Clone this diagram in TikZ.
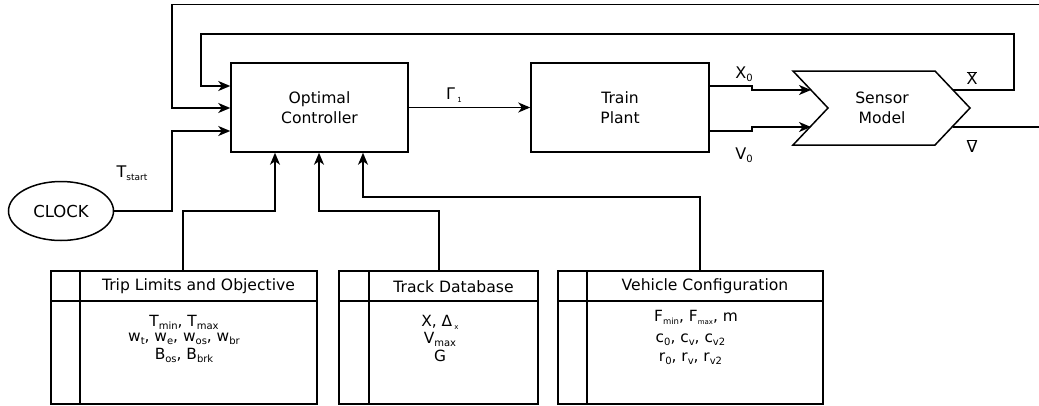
\documentclass[tikz,border=0pt]{standalone}
\usepackage{fontspec}
\setmainfont{DejaVu Sans}
\usetikzlibrary{arrows.meta,shapes.geometric}
\newcommand\sbs[2][10]{\raisebox{-0.35ex}{\fontsize{#1}{#1}\selectfont #2}}
\newcommand\ovl[1]{$\overline{\mbox{#1}}$}
\tikzset{
  conn/.style={line width=1.5pt, draw=black},
  arr/.style={conn, -{Stealth[length=12pt,width=10pt,inset=3.5pt]}},
  block/.style={draw=black, line width=1.5pt, inner sep=0pt, align=center,
    font=\fontsize{15.6}{19.5}\selectfont},
  lbl/.style={inner sep=0pt, font=\fontsize{16}{18}\selectfont},
  ttl/.style={inner sep=0pt, font=\fontsize{15.6}{18}\selectfont},
  cnt/.style={inner sep=0pt, font=\fontsize{15.4}{17}\selectfont},
}
\begin{document}
\begin{tikzpicture}[x=1pt,y=-1pt]
\useasboundingbox (0,0) rectangle (1039,405);

% main blocks
\node[block, minimum width=177pt, minimum height=89pt] (ctrl) at (319.5,107.5) {Optimal\\Controller};
\node[block, minimum width=178pt, minimum height=89pt] (plant) at (620,107.5) {Train\\Plant};
\node[draw=black, line width=1.5pt, ellipse, minimum width=105pt, minimum height=59pt, inner sep=0pt,
  font=\fontsize{16.5}{19}\selectfont] (clock) at (61,211) {CLOCK};

% sensor model chevron
\draw[conn] (793,71) -- (828,108) -- (793,145) -- (935,145) -- (970,108) -- (935,71) -- cycle;
\node[align=center, inner sep=0pt, font=\fontsize{15.6}{19.5}\selectfont] (sensor) at (882,108) {Sensor\\Model};
\coordinate (sinX) at (811,90);
\coordinate (sinV) at (811,127);
\coordinate (soutX) at (953,90);
\coordinate (soutV) at (953,127);

% bottom boxes
\draw[conn] (51,271) rectangle (317,404);
\draw[conn] (80,271) -- (80,404);
\draw[conn] (51,301) -- (317,301);
\node[ttl] (triptitle) at (198.5,286.5) {Trip Limits and Objective};
\coordinate (trip) at (183,271);
\node[cnt] (trip1) at (184,322) {T\sbs{min}, T\sbs{max}};
\node[cnt] (trip2) at (184,339) {w\sbs{t}, w\sbs{e}, w\sbs{os}, w\sbs{br}};
\node[cnt] (trip3) at (184,355) {B\sbs{os}, B\sbs{brk}};

\draw[conn] (339,271) rectangle (538,404);
\draw[conn] (369,271) -- (369,404);
\draw[conn] (339,301) -- (538,301);
\node[ttl] (tracktitle) at (453.5,286.5) {Track Database};
\coordinate (track) at (439,271);
\node[cnt] (track1) at (440,322) {X, Δ\sbs[7]{ x}};
\node[cnt] (track2) at (440,339) {V\sbs{max}};
\node[cnt] (track3) at (440,356) {G};

\draw[conn] (558,271) rectangle (823,404);
\draw[conn] (587,271) -- (587,404);
\draw[conn] (558,301) -- (823,301);
\node[ttl] (vehtitle) at (705,286.5) {Vehicle Configuration};
\coordinate (veh) at (700,271);
\node[cnt] (veh1) at (696,317) {F\sbs[8.5]{min}, F\sbs[7]{max}, m};
\node[cnt] (veh2) at (690.5,340) {c\sbs{0}, c\sbs{v}, c\sbs{v2}};
\node[cnt] (veh3) at (690.5,359) {r\sbs{0}, r\sbs{v}, r\sbs{v2}};

% edge coordinates
\coordinate (topend) at (1041,4.5);
\coordinate (vend) at (1041,127);

% connectors
\draw[arr] (ctrl.east) -- (plant.west);
\draw[arr] (plant.east |- 0,86) -- (752,86) -- (752,90) -- (sinX);
\draw[arr] (plant.east |- 0,131) -- (752,131) -- (752,127) -- (sinV);
\draw[arr] (soutX) -- (1014,90) -- (1014,34) -- (201,34) -- (201,86) -- (ctrl.west |- 0,86);
\draw[arr] (topend) -- (172,4.5) -- (172,108) -- (ctrl.west |- 0,108);
\draw[conn] (soutV) -- (vend);
\draw[arr] (clock.east) -- (172,211) -- (172,131) -- (ctrl.west |- 0,131);
\draw[arr] (trip) -- (183,211) -- (275,211) -- (ctrl.south -| 275,0);
\draw[arr] (track) -- (439,211) -- (319,211) -- (ctrl.south -| 319,0);
\draw[arr] (veh) -- (700,197) -- (363,197) -- (ctrl.south -| 363,0);

% labels
\node[lbl] (gam) at (454,95) {Γ\sbs[7]{ 1}};
\node[lbl] (tst) at (132,173) {T\sbs[9]{start}};
\node[lbl] (x0) at (744,74) {X\sbs{0}};
\node[lbl] (v0) at (744,155) {V\sbs{0}};
\node[lbl] (xb) at (972,78) {\ovl{X}};
\node[lbl] (vb) at (972,146) {\ovl{V}};
\end{tikzpicture}
\end{document}
